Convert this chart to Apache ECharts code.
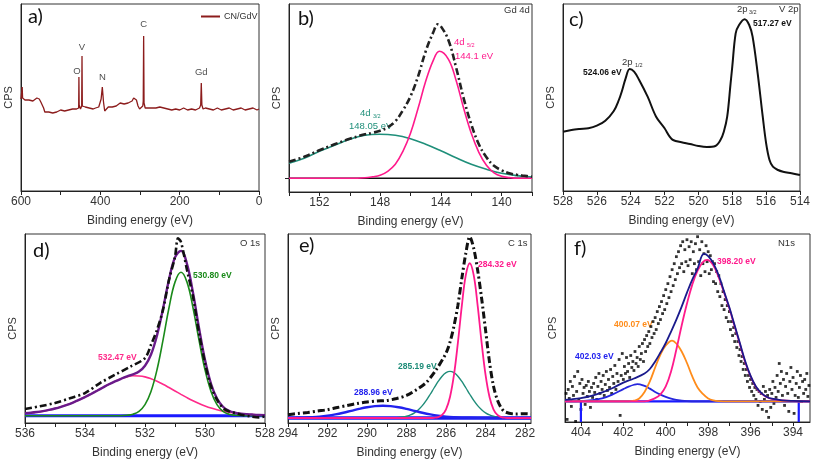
<!DOCTYPE html>
<html><head><meta charset="utf-8">
<script src="https://cdn.jsdelivr.net/npm/echarts@6/dist/echarts.min.js"></script>
<style>html,body{margin:0;padding:0;background:#fff}#c{width:813px;height:460px}</style>
</head><body><div id="c"></div>
<script>
// ---------- DATA ----------
// a) survey spectrum [binding energy, counts]
const aSurvey = [[600,92],[598.5,93],[597,104],[596,93],[595,92],[590,91],[585,93],[580,91],[575,92],[570,90],[565,91],[560,93],[557,95],[554,92],[550,89],[546,90],[543,83],[540,79],[535,78],[530,79],[525,78],[520,78],[515,80],[510,79],[505,78],[500,81],[495,79],[490,80],[485,82],[480,81],[475,83],[470,82],[465,83],[460,82],[456,84],[454.6,83],[454,114],[453.3,86],[450,82],[447,85],[446.2,135],[445.4,85],[442,83],[438,84],[433,82],[428,83],[423,81],[418,82],[412,83],[408,81],[404,84],[401,88],[398,92],[395,104],[392,89],[389,80],[385,82],[380,84],[375,83],[370,84],[365,85],[360,85],[355,86],[350,88],[345,86],[340,87],[335,87],[330,88],[325,88],[320,90],[316,93],[313,94],[309,91],[305,85],[301,82],[297,83],[293,85],[291.8,90],[290.8,155],[289.8,88],[287,83],[283,82],[280,83],[275,82],[270,83],[265,81],[260,83],[255,82],[250,84],[245,82],[240,83],[235,81],[230,82],[225,83],[220,81],[215,83],[210,82],[205,83],[200,81],[195,82],[190,83],[185,82],[180,81],[175,83],[170,82],[165,83],[160,81],[155,82],[150,83],[147,86],[145.5,108],[144,86],[141,82],[135,83],[130,81],[125,82],[120,83],[115,81],[110,82],[105,83],[100,82],[95,81],[90,83],[85,82],[80,81],[75,83],[70,82],[65,81],[60,83],[55,82],[50,81],[45,83],[40,82],[35,81],[30,83],[25,82],[20,81],[15,83],[10,82],[5,81],[0,82]];
const aPeakLabels = [['O',459,115],['V',446.2,139],['N',395,109],['C',290.8,162],['Gd',145.5,114]];

// b) Gd 4d
const bPink = [[154,0],[150,0],[149,0.5],[148.5,1.5],[148,3],[147.5,7],[147,14],[146.5,27],[146,45],[145.5,70],[145,97],[144.5,118],[144.1,127],[143.5,119],[143,98],[142.5,70],[142,45],[141.5,26],[141,13],[140.5,5.5],[140,2],[139.5,0.7],[139,0],[138,0]];
const bGreen = [[154,15],[153,20],[152,27],[151,33],[150,39],[149,43],[148.05,44],[147,43],[146,39.5],[145,34],[144,27.5],[143,20.5],[142,14],[141,9],[140,5],[139,2.7],[138,1.3]];
const bTotal = [[154,16.5],[153,21.5],[152,28],[151,34],[150,39.5],[149,44],[148.5,45.5],[148,47.5],[147.5,51],[147,57],[146.5,68],[146,82],[145.5,102],[145,127],[144.5,146],[144.2,154],[144,152],[143.5,138],[143,111],[142.5,80],[142,54],[141.5,34],[141,21],[140.5,12.5],[140,8],[139.5,5],[139,3.5],[138.5,2.5],[138,1.5]];
const bBase = [[154,0],[138,0]];

// c) V 2p
const cV2p = [[528,59.3],[527.5,61],[527,62],[526.5,62.7],[526,65.3],[525.5,70.3],[525,80],[524.7,91],[524.5,101],[524.3,112.7],[524.06,122],[523.8,119.3],[523.5,111],[523,94.3],[522.5,74.3],[522,62.7],[521.7,54.3],[521.5,51],[521,48.7],[520.5,47],[520,45],[519.5,44],[519,45],[518.7,51],[518.5,59.3],[518.3,74.3],[518.1,107.7],[518,124.3],[517.8,157.7],[517.6,166],[517.27,171.7],[517,166],[516.8,154.3],[516.5,117.7],[516.2,74.3],[516,47.7],[515.8,31],[515.6,24.3],[515.3,21],[515,19.3],[514.5,17.7],[514,16]];

// d) O 1s
const dPink = [[536,2.5],[535.8,3],[535.6,3.7],[535.4,4.6],[535.2,5.8],[535,7.2],[534.8,8.9],[534.6,10.9],[534.4,13.2],[534.2,15.8],[534,18.7],[533.8,21.8],[533.6,25],[533.4,28.3],[533.2,31.5],[533,34.4],[532.8,37],[532.6,38.9],[532.4,40],[532.2,39.8],[532,38.9],[531.8,37],[531.6,34.5],[531.4,31.5],[531.2,28.2],[531,24.8],[530.8,21.4],[530.6,18.1],[530.4,15],[530.2,12.2],[530,9.8],[529.8,7.7],[529.6,6],[529.4,4.6],[529.2,3.5],[529,2.6],[528.8,2],[528.6,1.5],[528.4,1.1],[528.2,0.8],[528,0.6]];
const dGreen = [[536,0],[532.8,0],[532.6,0.45],[532.4,1.5],[532.2,4.4],[532,11.1],[531.8,24.3],[531.6,46],[531.4,75.7],[531.2,108.1],[531,133.8],[530.8,143.7],[530.6,133.8],[530.4,108.1],[530.2,75.7],[530,46],[529.8,24.3],[529.6,11.1],[529.4,4.4],[529.2,1.5],[529,0.45],[528.8,0.1],[528.6,0],[528,0]];
const dEnvelope = [[536,2.5],[535.8,3],[535.6,3.7],[535.4,4.6],[535.2,5.8],[535,7.2],[534.8,8.9],[534.6,10.9],[534.4,13.2],[534.2,15.8],[534,18.7],[533.8,21.8],[533.6,25],[533.4,28.3],[533.2,31.5],[533,34.4],[532.8,37],[532.6,39.4],[532.4,41.5],[532.2,44.2],[532,50],[531.8,61.3],[531.6,80.5],[531.4,107.2],[531.2,136.3],[531,158.6],[530.8,165.1],[530.6,151.9],[530.4,123.1],[530.2,87.9],[530,55.8],[529.8,32],[529.6,17.1],[529.4,9],[529.2,5],[529,3.05],[528.8,2.1],[528.6,1.5],[528.4,1.1],[528.2,0.8],[528,0.6]];
const dData = [[536,6.7],[535.5,9.5],[535,12.7],[534.5,17.5],[534,22.7],[533.5,32.7],[533,41],[532.5,49],[532,57.7],[531.8,71],[531.6,86],[531.4,106],[531.2,136],[531,159],[530.9,177.7],[530.8,174],[530.6,146],[530.4,119.3],[530.2,82.7],[530,52.7],[529.8,29.3],[529.6,16],[529.4,7.7],[529.2,4.3],[529,2.7],[528.8,1],[528.5,-0.7],[528.2,-1.7],[528,-0.7]];
const dBase = [[536,0],[528,0]];

// e) C 1s
const ePink = [[294,0],[286.8,0],[286.6,0.2],[286.4,0.9],[286.2,3.1],[286,8.7],[285.8,21],[285.6,43.1],[285.4,75.5],[285.2,112.5],[285,143.1],[284.8,155],[284.6,143.1],[284.4,112.5],[284.2,75.5],[284,43.1],[283.8,21],[283.6,8.7],[283.4,3.1],[283.2,0.9],[283,0.2],[282.8,0],[281.7,0]];
const eTeal = [[294,0],[288.8,0.1],[288.6,0.2],[288.4,0.5],[288.2,1],[288,1.8],[287.8,3.1],[287.6,5.2],[287.4,8.3],[287.2,12.4],[287,17.6],[286.8,23.8],[286.6,30.3],[286.4,36.6],[286.2,41.9],[286,45.4],[285.8,46.7],[285.6,45.4],[285.4,41.9],[285.2,36.6],[285,30.3],[284.8,23.8],[284.6,17.6],[284.4,12.4],[284.2,8.3],[284,5.2],[283.8,3.1],[283.6,1.8],[283.4,1],[283.2,0.5],[283,0.2],[282.8,0.1],[281.7,0]];
const eBlue = [[294,0.1],[293.6,0.2],[293.2,0.4],[292.8,0.8],[292.4,1.4],[292,2.35],[291.6,3.65],[291.2,5.3],[290.8,7.2],[290.4,9.1],[290,10.75],[289.6,11.9],[289.2,12.3],[288.8,11.9],[288.4,10.75],[288,9.1],[287.6,7.2],[287.2,5.3],[286.8,3.65],[286.4,2.35],[286,1.4],[285.6,0.8],[285.2,0.4],[284.8,0.2],[284.4,0.1],[281.7,0]];
const eData = [[294,3.3],[293.5,4.5],[293,5.6],[292.5,7],[292,8.3],[291.5,10.5],[291,12.6],[290.5,14.5],[290,16],[289.5,17],[289,17.6],[288.5,19.5],[288,22.6],[287.5,28.3],[287,35.6],[286.5,48.3],[286,65],[285.8,76],[285.6,92],[285.4,113],[285.2,140],[285,165],[284.8,181.6],[284.6,170],[284.4,148],[284.2,120],[284,88],[283.8,56],[283.6,32],[283.4,18],[283.2,10],[283,6],[282.5,4],[282,4.3],[281.7,4]];
const eBase = [[294,0],[281.7,0]];

// f) N 1s
const fPink = [[404.75,0],[401,0],[400.5,3.3],[400.25,7],[400,15],[399.75,30],[399.5,52],[399.25,76],[399,98],[398.75,117],[398.5,131],[398.25,139.5],[398.05,141.7],[397.75,136],[397.5,124],[397.25,109],[397,93],[396.75,75],[396.5,57],[396.25,39],[396,25],[395.75,14.5],[395.5,8],[395.25,4.5],[395,2.5],[394.5,1],[394,0.4],[393.2,0]];
const fOrange = [[404.75,0],[401.75,0],[401.5,0.7],[401.25,3],[401,9.5],[400.75,20],[400.5,34],[400.25,47],[400,56],[399.7,61],[399.5,58],[399.25,50],[399,38.5],[398.75,25],[398.5,14],[398.25,7.5],[398,3],[397.75,1],[397.5,0.3],[397,0],[393.2,0]];
const fBlue = [[404.75,0],[404.5,0],[404,0.3],[403.5,1.2],[403,3],[402.5,7],[402,12.3],[401.75,14.8],[401.5,16.7],[401.34,17.4],[401,15.5],[400.75,12.8],[400.5,9.5],[400.25,6.8],[400,4.5],[399.75,2.7],[399.5,1.5],[399,0.3],[398.5,0],[393.2,0]];
const fEnvelope = [[404.75,1.6],[404.5,2],[404,3.3],[403.5,5.5],[403,9],[402.5,13.5],[402,18.8],[401.5,23],[401,28],[400.75,32.5],[400.5,40],[400.25,49],[400,58.5],[399.75,70],[399.5,82],[399.25,95],[399,109],[398.75,122],[398.5,133],[398.2,147.7],[398,145.5],[397.75,138],[397.5,126],[397.25,110],[397,94],[396.75,76],[396.5,58],[396.25,40],[396,25.5],[395.75,15],[395.5,8.5],[395.25,4.7],[395,2.7],[394.5,1.1],[394,0.5],[393.2,0]];
const fBase = [[404.75,0],[404,0],[404,-20.6],[404,0],[393.73,0],[393.73,-20.6],[393.73,0],[393.2,0]];
const fData = [[404.70,8],[404.65,-18],[404.60,12],[404.55,3],[404.50,20],[404.45,-5],[404.40,15],[404.35,6],[404.30,25],[404.25,-20],[404.20,10],[404.15,30],[404.10,2],[404.05,18],[404.00,-8],[403.95,22],[403.90,8],[403.85,14],[403.80,-3],[403.75,16],[403.70,5],[403.65,20],[403.60,10],[403.55,-6],[403.50,14],[403.45,4],[403.40,18],[403.35,9],[403.30,24],[403.25,2],[403.20,15],[403.15,28],[403.10,8],[403.05,20],[403.00,12],[402.95,26],[402.90,6],[402.85,17],[402.80,30],[402.75,11],[402.70,22],[402.65,14],[402.60,32],[402.55,8],[402.50,25],[402.45,18],[402.40,36],[402.35,12],[402.30,28],[402.25,20],[402.20,42],[402.15,-14],[402.10,26],[402.05,48],[402.00,22],[401.95,35],[401.90,28],[401.85,44],[401.80,30],[401.75,38],[401.70,24],[401.65,46],[401.60,34],[401.55,40],[401.50,31],[401.45,50],[401.40,38],[401.35,44],[401.30,35],[401.25,55],[401.20,42],[401.15,48],[401.10,58],[401.05,40],[401.00,62],[400.95,50],[400.90,66],[400.85,55],[400.80,70],[400.75,58],[400.70,75],[400.65,64],[400.60,80],[400.55,68],[400.50,84],[400.45,72],[400.40,90],[400.35,78],[400.30,95],[400.25,82],[400.20,100],[400.15,88],[400.10,106],[400.05,92],[400.00,112],[399.95,98],[399.90,118],[399.85,104],[399.80,125],[399.75,110],[399.70,132],[399.65,116],[399.60,138],[399.55,122],[399.50,145],[399.45,128],[399.40,150],[399.35,134],[399.30,156],[399.25,138],[399.20,160],[399.15,130],[399.10,152],[399.05,140],[399.00,162],[398.95,136],[398.90,155],[398.85,142],[398.80,160],[398.75,128],[398.70,150],[398.65,138],[398.60,158],[398.55,132],[398.50,165],[398.45,140],[398.40,152],[398.35,126],[398.30,160],[398.25,138],[398.20,148],[398.15,130],[398.10,156],[398.05,140],[398.00,150],[397.95,128],[397.90,146],[397.85,132],[397.80,140],[397.75,120],[397.70,138],[397.65,118],[397.60,130],[397.55,110],[397.50,126],[397.45,105],[397.40,118],[397.35,96],[397.30,110],[397.25,92],[397.20,102],[397.15,84],[397.10,96],[397.05,80],[397.00,90],[396.95,72],[396.90,80],[396.85,66],[396.80,74],[396.75,60],[396.70,68],[396.65,54],[396.60,60],[396.55,46],[396.50,52],[396.45,40],[396.40,45],[396.35,32],[396.30,38],[396.25,26],[396.20,32],[396.15,20],[396.10,26],[396.05,14],[396.00,22],[395.95,10],[395.90,18],[395.85,6],[395.80,14],[395.75,2],[395.70,12],[395.65,-4],[395.60,10],[395.55,0],[395.50,8],[395.45,-8],[395.40,15],[395.35,2],[395.30,10],[395.25,-10],[395.20,6],[395.15,-16],[395.10,12],[395.05,-6],[395.00,8],[394.95,20],[394.90,-2],[394.85,14],[394.80,4],[394.75,26],[394.70,10],[394.65,38],[394.60,18],[394.55,30],[394.50,6],[394.45,22],[394.40,-4],[394.35,15],[394.30,28],[394.25,8],[394.20,-10],[394.15,20],[394.10,34],[394.05,12],[394.00,24],[393.95,-12],[393.90,6],[393.85,18],[393.80,30],[393.75,4],[393.70,14],[393.65,26],[393.60,0],[393.55,20],[393.50,8],[393.45,22],[393.40,12],[393.35,28],[393.30,5],[393.25,16]];

// axis ranges and tick labels
const xRanges = [[0,600],[138,154],[514,528],[528,536],[281.7,294],[393.2,404.75]];
const yRanges = [[0,187],[-13.7,174.3],[0,187],[-7.3,182],[-5,184.3],[-20.6,167.7]];
const eTicks = [282,283,284,285,286,287,288,289,290,291,292,293,294];
const eTickLabels = [282,284,286,288,290,292,294];
const fTicks = [394,395,396,397,398,399,400,401,402,403,404];
const fTickLabels = [394,396,398,400,402,404];

// ---------- OPTION ----------
const FF = 'Liberation Sans, Arial, sans-serif';
const grids = [
  {left:21, top:4, width:238, height:187},
  {left:289, top:4, width:243, height:188},
  {left:563, top:4, width:239, height:187},
  {left:25, top:234, width:240, height:189},
  {left:288, top:234, width:243, height:189},
  {left:565, top:234, width:245, height:188}
].map(g => Object.assign({show:true, borderColor:'#333', borderWidth:1, backgroundColor:'transparent'}, g));

function xAxisBase(i){
  return {
    type:'value', gridIndex:i, inverse:true, min:xRanges[i][0], max:xRanges[i][1],
    name:'Binding energy (eV)', nameLocation:'middle', nameGap:24,
    nameTextStyle:{fontSize:12, color:'#333', fontFamily:FF},
    axisLine:{show:true, onZero:false, lineStyle:{color:'#222', width:1}},
    axisTick:{show:true, length:4, lineStyle:{color:'#222'}},
    axisLabel:{color:'#333', fontSize:12, margin:5, fontFamily:FF},
    splitLine:{show:false}
  };
}
const xAxes = [0,1,2,3,4,5].map(xAxisBase);
xAxes[0].interval = 100; xAxes[0].axisLabel.formatter = v => (v % 200 === 0 ? String(v) : '');
xAxes[1].interval = 2; xAxes[1].axisLabel.formatter = v => (v % 4 === 0 ? String(v) : '');
xAxes[2].interval = 2;
xAxes[3].interval = 1; xAxes[3].axisLabel.formatter = v => (v % 2 === 0 ? String(v) : '');
xAxes[4].axisTick.customValues = eTicks; xAxes[4].axisLabel.customValues = eTickLabels;
xAxes[5].axisTick.customValues = fTicks; xAxes[5].axisLabel.customValues = fTickLabels;

const yAxes = [0,1,2,3,4,5].map(i => ({
  type:'value', gridIndex:i, min:yRanges[i][0], max:yRanges[i][1],
  name:'CPS', nameLocation:'middle', nameGap:7,
  nameTextStyle:{fontSize:11, color:'#333', fontFamily:FF},
  axisLine:{show:true, onZero:false, lineStyle:{color:'#222', width:1}},
  axisTick:{show:false}, axisLabel:{show:false}, splitLine:{show:false}
}));
yAxes[1].axisTick = {show:true, length:4, customValues:[0], lineStyle:{color:'#222'}};

function line(i, data, color, width, extra){
  return Object.assign({
    type:'line', xAxisIndex:i, yAxisIndex:i, data:data, showSymbol:false, symbol:'none',
    lineStyle:{color:color, width:width}, itemStyle:{color:color}, silent:true
  }, extra || {});
}
const DASHDOT = [7,3,2,3];

const series = [
  line(0, aSurvey, '#8c1c1c', 1.3, {name:'CN/GdV'}),
  line(1, bBase, '#111', 1.4),
  line(1, bGreen, '#1f8f7a', 1.6, {smooth:0.4}),
  line(1, bPink, '#ff1a8c', 1.6, {smooth:0.4}),
  line(1, bTotal, '#222', 2.6, {smooth:0.4, lineStyle:{color:'#222', width:2.6, type:DASHDOT}}),
  line(2, cV2p, '#111', 2, {smooth:0.35}),
  line(3, dBase, '#1a1aff', 3),
  line(3, dPink, '#ff2a8a', 1.6, {smooth:0.4}),
  line(3, dGreen, '#1a8a1a', 1.6, {smooth:0.4}),
  line(3, dEnvelope, '#6a1b8a', 2.4, {smooth:0.4}),
  line(3, dData, '#111', 2.6, {smooth:0.3, lineStyle:{color:'#111', width:2.6, type:DASHDOT}}),
  line(4, eBase, '#1a1aee', 3.5),
  line(4, eTeal, '#1e8c78', 1.4, {smooth:0.4}),
  line(4, eBlue, '#2222ee', 2.4, {smooth:0.4}),
  line(4, ePink, '#ff1a8c', 1.8, {smooth:0.4}),
  line(4, eData, '#111', 3, {smooth:0.3, lineStyle:{color:'#111', width:3, type:DASHDOT}}),
  {type:'scatter', xAxisIndex:5, yAxisIndex:5, data:fData, symbol:'rect', symbolSize:2.8, itemStyle:{color:'#000'}, silent:true},
  line(5, fBase, '#1a1aff', 2.2),
  line(5, fBlue, '#2626dd', 1.8, {smooth:0.4}),
  line(5, fOrange, '#ff8c1a', 1.8, {smooth:0.4}),
  line(5, fPink, '#ff1a8c', 1.8, {smooth:0.4}),
  line(5, fEnvelope, '#1a1a8c', 1.8, {smooth:0.4})
];

// peak letter labels on survey (placed at data positions)
series.push({
  type:'scatter', xAxisIndex:0, yAxisIndex:0, symbolSize:0, silent:true,
  data: aPeakLabels.map(p => ({value:[p[1], p[2]], name:p[0]})),
  label:{show:true, position:'top', distance:0, formatter: p => p.name, fontSize:9.5, color:'#222', fontFamily:FF}
});

function txt(x, y, text, opt){
  opt = opt || {};
  return {type:'text', x:x, y:y, silent:true, style:{
    text:text, fill:opt.color || '#333', fontSize:opt.size || 9, fontWeight:opt.bold ? 'bold' : 'normal',
    fontFamily:opt.family || FF, align:opt.align || 'left', verticalAlign:'middle'}};
}
const LET = {size:20, color:'#111', family:'Lato, Open Sans, sans-serif'};
const graphics = [
  txt(28,17,'a)',LET), txt(298,19,'b)',LET), txt(569,20,'c)',LET),
  txt(33,251,'d)',LET), txt(299,246,'e)',LET), txt(574,249,'f)',LET),
  txt(504,10,'Gd 4d',{size:9.5}), txt(779,9,'V 2p',{size:9.5}), txt(240,243,'O 1s',{size:9.5}),
  txt(508,243,'C 1s',{size:9.5}), txt(778,243,'N1s',{size:9.5}),
  // b
  txt(454,42,'4d',{color:'#ff1a8c',size:9.5}), txt(467,45,'5/2',{color:'#ff1a8c',size:5.5}),
  txt(455,56,'144.1 eV',{color:'#ff1a8c',size:9.5}),
  txt(360,113,'4d',{color:'#1f8f7a',size:9.5}), txt(373,116,'3/2',{color:'#1f8f7a',size:5.5}),
  txt(349,126,'148.05 eV',{color:'#1f8f7a',size:9.5}),
  // c
  txt(622,62,'2p',{size:9.5}), txt(635,65,'1/2',{size:5.5}),
  txt(583,73,'524.06 eV',{size:8.5,bold:true,color:'#111'}),
  txt(737,9,'2p',{size:9.5}), txt(749,12,'3/2',{size:5.5}),
  txt(753,24,'517.27 eV',{size:8.5,bold:true,color:'#111'}),
  // d
  txt(193,276,'530.80 eV',{size:8.5,bold:true,color:'#1a8a1a'}),
  txt(98,358,'532.47 eV',{size:8.5,bold:true,color:'#ff2a8a'}),
  // e
  txt(478,265,'284.32 eV',{size:8.5,bold:true,color:'#ff1a8c'}),
  txt(398,367,'285.19 eV',{size:8.5,bold:true,color:'#1e8c78'}),
  txt(354,393,'288.96 eV',{size:8.5,bold:true,color:'#2222ee'}),
  // f
  txt(717,262,'398.20 eV',{size:8.5,bold:true,color:'#ff1a8c'}),
  txt(614,325,'400.07 eV',{size:8.5,bold:true,color:'#ff8c1a'}),
  txt(575,357,'402.03 eV',{size:8.5,bold:true,color:'#2222ee'})
];

const chart = echarts.init(document.getElementById('c'), null, {renderer:'canvas'});
chart.setOption({
  animation:false,
  backgroundColor:'#fff',
  textStyle:{fontFamily:FF},
  grid:grids, xAxis:xAxes, yAxis:yAxes, series:series,
  legend:{data:[{name:'CN/GdV', icon:'rect'}], left:196, top:7, itemWidth:19, itemHeight:2, itemGap:4,
    textStyle:{fontSize:9, color:'#333', fontFamily:FF, padding:[0,0,0,-1]}, selectedMode:false},
  graphic:graphics
});
</script></body></html>
